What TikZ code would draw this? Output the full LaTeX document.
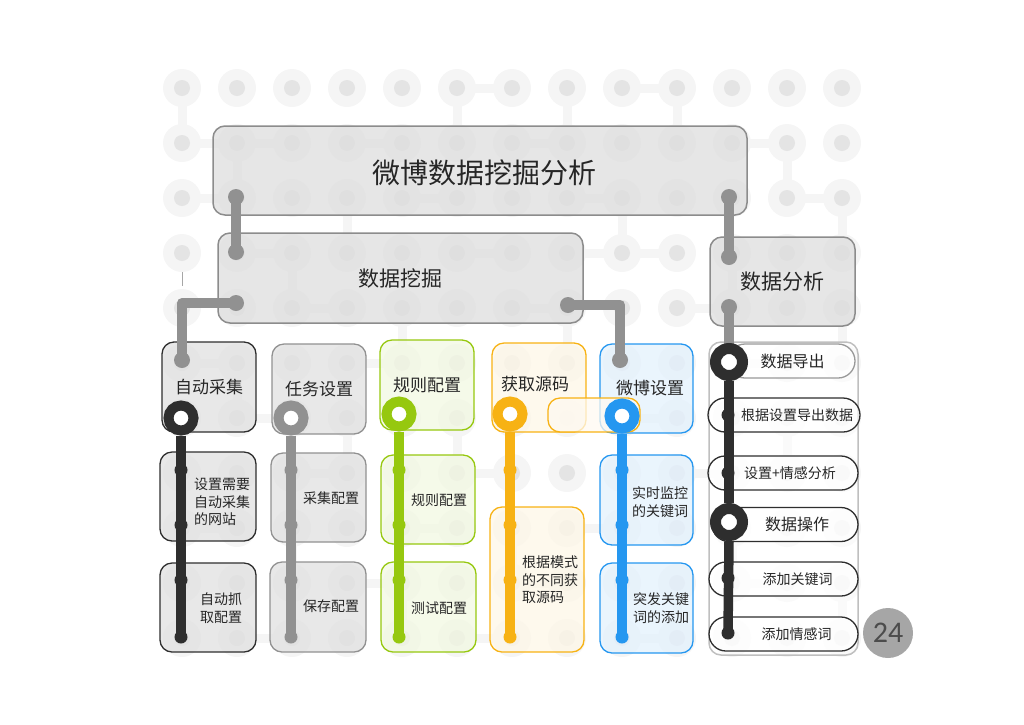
\documentclass[tikz,border=0pt]{standalone}
\usepackage{fontspec}
\setmainfont{Noto Sans CJK SC}
\newfontfamily\pagenumfont{Carlito}
\usepackage{tikz}
\usetikzlibrary{positioning, calc}

\definecolor{inkDark}{HTML}{2E2E2E}
\definecolor{inkGray}{HTML}{919191}
\definecolor{inkGreen}{HTML}{96C80F}
\definecolor{inkOrange}{HTML}{F7B214}
\definecolor{inkBlue}{HTML}{2597F0}
\definecolor{frameGray}{HTML}{8C8C8C}
\definecolor{textDark}{HTML}{262626}
\definecolor{gridHalo}{HTML}{F5F5F5}
\definecolor{gridDot}{HTML}{E4E4E4}

\begin{document}
\begin{tikzpicture}[x=1pt, y=-1pt,
        card/.style={draw=#1, rounded corners=12pt, line width=1.3pt, fill opacity=0.75, text opacity=1, text=textDark, inner sep=0pt},
        bigcard/.style={card=frameGray, fill=black!13, line width=1.5pt},
        pill/.style={draw=inkDark, rounded corners=17pt, line width=1.3pt, minimum height=34pt, fill=white, fill opacity=0.6, text opacity=1, text=textDark, inner sep=0pt, font=\fontsize{14}{17}\selectfont},
        lbl/.style={text=textDark, align=left, inner sep=0pt, font=\fontsize{14}{17.5}\selectfont},
        head/.style={font=\fontsize{17}{20}\selectfont},
        ring/.style={circle, draw=#1, line width=10pt, fill=white, minimum size=25pt, inner sep=0pt},
        track/.style={draw=#1, line width=9.5pt},
        link/.style={draw=inkGray, line width=10pt, line join=round},
        halo/.style={gridHalo, line width=9pt}
    ]
        \useasboundingbox (0,0) rectangle (1024,724);

        % background dot grid
        \foreach \i/\j in {5/0,8/0,0/1,1/1,3/1,6/1,10/1,0/2,4/2,7/2,11/2,1/3,5/3,7/3,8/3,2/4,6/4,9/4,0/5,3/5,10/5,1/6,8/6,2/7,5/7,9/7,0/8,4/8,7/8,3/9,6/9,10/9,1/10,5/10,8/10}
            \draw[halo] ({182+55*\i},{88+55*\j}) -- ++(55,0);
        \foreach \i/\j in {0/0,5/0,7/0,9/0,1/1,6/1,11/1,3/2,8/2,12/2,2/3,10/3,4/4,7/4,12/4,1/5,6/5,9/5,3/6,5/6,11/6,0/7,5/7,8/7,2/8,6/8,10/8,4/9,9/9,12/9}
            \draw[halo] ({182+55*\i},{88+55*\j}) -- ++(0,55);
        \foreach \i in {0,...,12}
            \foreach \j in {0,...,10} {
                \fill[gridHalo] ({182+55*\i},{88+55*\j}) circle (19);
                \fill[gridDot] ({182+55*\i},{88+55*\j}) circle (8);
            }
        \draw[black!35, line width=0.8pt] (182,272) -- (182,286);

        % top levels
        \node[bigcard, minimum width=534pt, minimum height=89pt] (weiboMining) at (480,170.5) {};
        \node[text=textDark, font=\fontsize{28}{32}\selectfont] (weiboTitle) at (484,173) {微博数据挖掘分析};
        \node[bigcard, minimum width=365pt, minimum height=90pt, font=\fontsize{21}{24}\selectfont] (mining) at (400.5,278) {数据挖掘};
        \node[bigcard, minimum width=145pt, minimum height=89pt, font=\fontsize{21}{24}\selectfont] (analysis) at (782.5,281.5) {数据分析};

        % mining columns
        \node[card=inkDark, fill=black!12, minimum width=94pt, minimum height=90pt, head] (autoBox) at (209,387) {自动采集};
        \node[card=inkGray, fill=black!12, minimum width=94pt, minimum height=90pt, head] (taskBox) at (319,389) {任务设置};
        \node[card=inkGreen, fill=inkGreen!12, minimum width=94pt, minimum height=90pt, head] (ruleBox) at (427,385) {规则配置};
        \node[card=inkOrange, fill=inkOrange!10, minimum width=94pt, minimum height=89pt, head] (sourceBox) at (539,387.5) {};
        \node[text=textDark, head] (sourceText) at (535,384) {获取源码};
        \node[card=inkBlue, fill=inkBlue!13, minimum width=93pt, minimum height=89pt, head] (weiboBox) at (646.5,388.5) {};
        \node[text=textDark, head] (weiboText) at (650,388) {微博设置};
        \node[card=inkOrange, fill=inkOrange!6, minimum width=92pt, minimum height=34pt] (sourceTab) at (594,415) {};

        \node[card=inkDark, fill=black!12, minimum width=96pt, minimum height=89pt] (siteBox) at (208,496.5) {};
        \node[lbl] (siteText) at (222,502) {设置需要\\自动采集\\的网站};
        \node[card=inkGray, fill=black!12, minimum width=95pt, minimum height=89pt] (collectBox) at (318.5,497.5) {};
        \node[lbl] (collectText) at (331,498) {采集配置};
        \node[card=inkGreen, fill=inkGreen!12, minimum width=94pt, minimum height=89pt] (ruleCfgBox) at (428,499.5) {};
        \node[lbl] (ruleCfgText) at (439,500) {规则配置};
        \node[card=inkOrange, fill=inkOrange!10, minimum width=94pt, minimum height=145pt] (modeBox) at (537,579.5) {};
        \node[lbl] (modeText) at (550,580) {根据模式\\的不同获\\取源码};
        \node[card=inkBlue, fill=inkBlue!13, minimum width=93pt, minimum height=90pt] (monitorBox) at (646.5,500) {};
        \node[lbl] (monitorText) at (660,502) {实时监控\\的关键词};

        \node[card=inkDark, fill=black!12, minimum width=96pt, minimum height=89pt] (grabBox) at (208,607.5) {};
        \node[lbl] (grabText) at (221,608) {自动抓\\取配置};
        \node[card=inkGray, fill=black!12, minimum width=96pt, minimum height=90pt] (saveBox) at (318,607) {};
        \node[lbl] (saveText) at (331,606) {保存配置};
        \node[card=inkGreen, fill=inkGreen!12, minimum width=95pt, minimum height=90pt] (testBox) at (428.5,607) {};
        \node[lbl] (testText) at (439,608) {测试配置};
        \node[card=inkBlue, fill=inkBlue!13, minimum width=93pt, minimum height=90pt] (burstBox) at (646.5,608) {};
        \node[lbl] (burstText) at (661,608) {突发关键\\词的添加};

        % analysis column
        \node[card=black!25, fill=white, fill opacity=0.5, line width=1.5pt, minimum width=149pt, minimum height=313pt] (analysisList) at (783.5,498.5) {};
        \node[pill, draw=black!40, minimum width=127pt, font=\fontsize{16}{18}\selectfont] (exportPill) at (791.5,361) {\hspace*{2pt}数据导出};
        \node[pill, minimum width=152pt] (exportData) at (784,415) {\hspace*{26pt}根据设置导出数据};
        \node[pill, minimum width=150pt] (sentiment) at (783,473) {\hspace*{14pt}设置+情感分析};
        \node[pill, minimum width=146pt, font=\fontsize{16}{18}\selectfont] (operate) at (785,524.5) {\hspace*{24pt}数据操作};
        \node[pill, minimum width=149pt] (addKeyword) at (783.5,579) {\hspace*{28pt}添加关键词};
        \node[pill, minimum width=149pt] (addSentiment) at (783.5,634) {\hspace*{26pt}添加情感词};

        % gray links between levels
        \coordinate (titleL) at (236,197);
        \coordinate (miningT) at (236,252);
        \coordinate (miningL) at (236,303);
        \coordinate (autoT) at (182,360);
        \coordinate (miningR) at (568,305);
        \coordinate (weiboT) at (620,360);
        \coordinate (titleR) at (729,197);
        \coordinate (analysisT) at (729,257);
        \coordinate (analysisB) at (729,307);

        \draw[link] (titleL) -- (miningT);
        \draw[link] (miningL) -| (autoT);
        \draw[link] (miningR) -| (weiboT);
        \draw[link] (titleR) -- (analysisT);
        \draw[link] (analysisB) -- (729,350);
        \foreach \p in {titleL, miningT, miningL, autoT, miningR, weiboT, titleR, analysisT, analysisB}
            \fill[inkGray] (\p) circle (8);

        % column tracks
        \node[ring=inkDark] (autoRing) at (181,418) {};
        \node[ring=inkGray] (taskRing) at (291,418) {};
        \node[ring=inkGreen] (ruleRing) at (399,414) {};
        \node[ring=inkOrange] (sourceRing) at (510,414) {};
        \node[ring=inkBlue] (weiboRing) at (622,416) {};
        \coordinate (autoEnd) at (181,637);
        \coordinate (taskEnd) at (291,637);
        \coordinate (ruleEnd) at (399,637);
        \coordinate (sourceEnd) at (510,637);
        \coordinate (weiboEnd) at (622,637);

        \draw[track=inkDark] (autoRing.south) -- (autoEnd);
        \draw[track=inkGray] (taskRing.south) -- (taskEnd);
        \draw[track=inkGreen] (ruleRing.south) -- (ruleEnd);
        \draw[track=inkOrange] (sourceRing.south) -- (sourceEnd);
        \draw[track=inkBlue] (weiboRing.south) -- (weiboEnd);
        \foreach \cx/\col in {181/inkDark, 291/inkGray, 399/inkGreen, 510/inkOrange, 622/inkBlue}
            \foreach \dy in {470,525,580,637}
                \fill[\col] (\cx,\dy) circle (6.5);

        \node[ring=inkDark, minimum size=27pt, line width=11pt] (exportRing) at (729,362) {};
        \node[ring=inkDark, minimum size=27pt, line width=11pt] (operateRing) at (729,522) {};
        \coordinate (listEnd) at (728,633);
        \draw[track=inkDark] (exportRing.south) -- (operateRing.north);
        \draw[track=inkDark] (operateRing.south) -- (listEnd);
        \foreach \dy in {415,473,578,633}
            \fill[inkDark] (728,\dy) circle (6.5);

        % page number
        \node[circle, fill=black!35, minimum size=50pt, inner sep=0pt, text=black!70, font=\pagenumfont\fontsize{30}{30}\selectfont] (pageNo) at (888,633) {24};

    \end{tikzpicture}
\end{document}
